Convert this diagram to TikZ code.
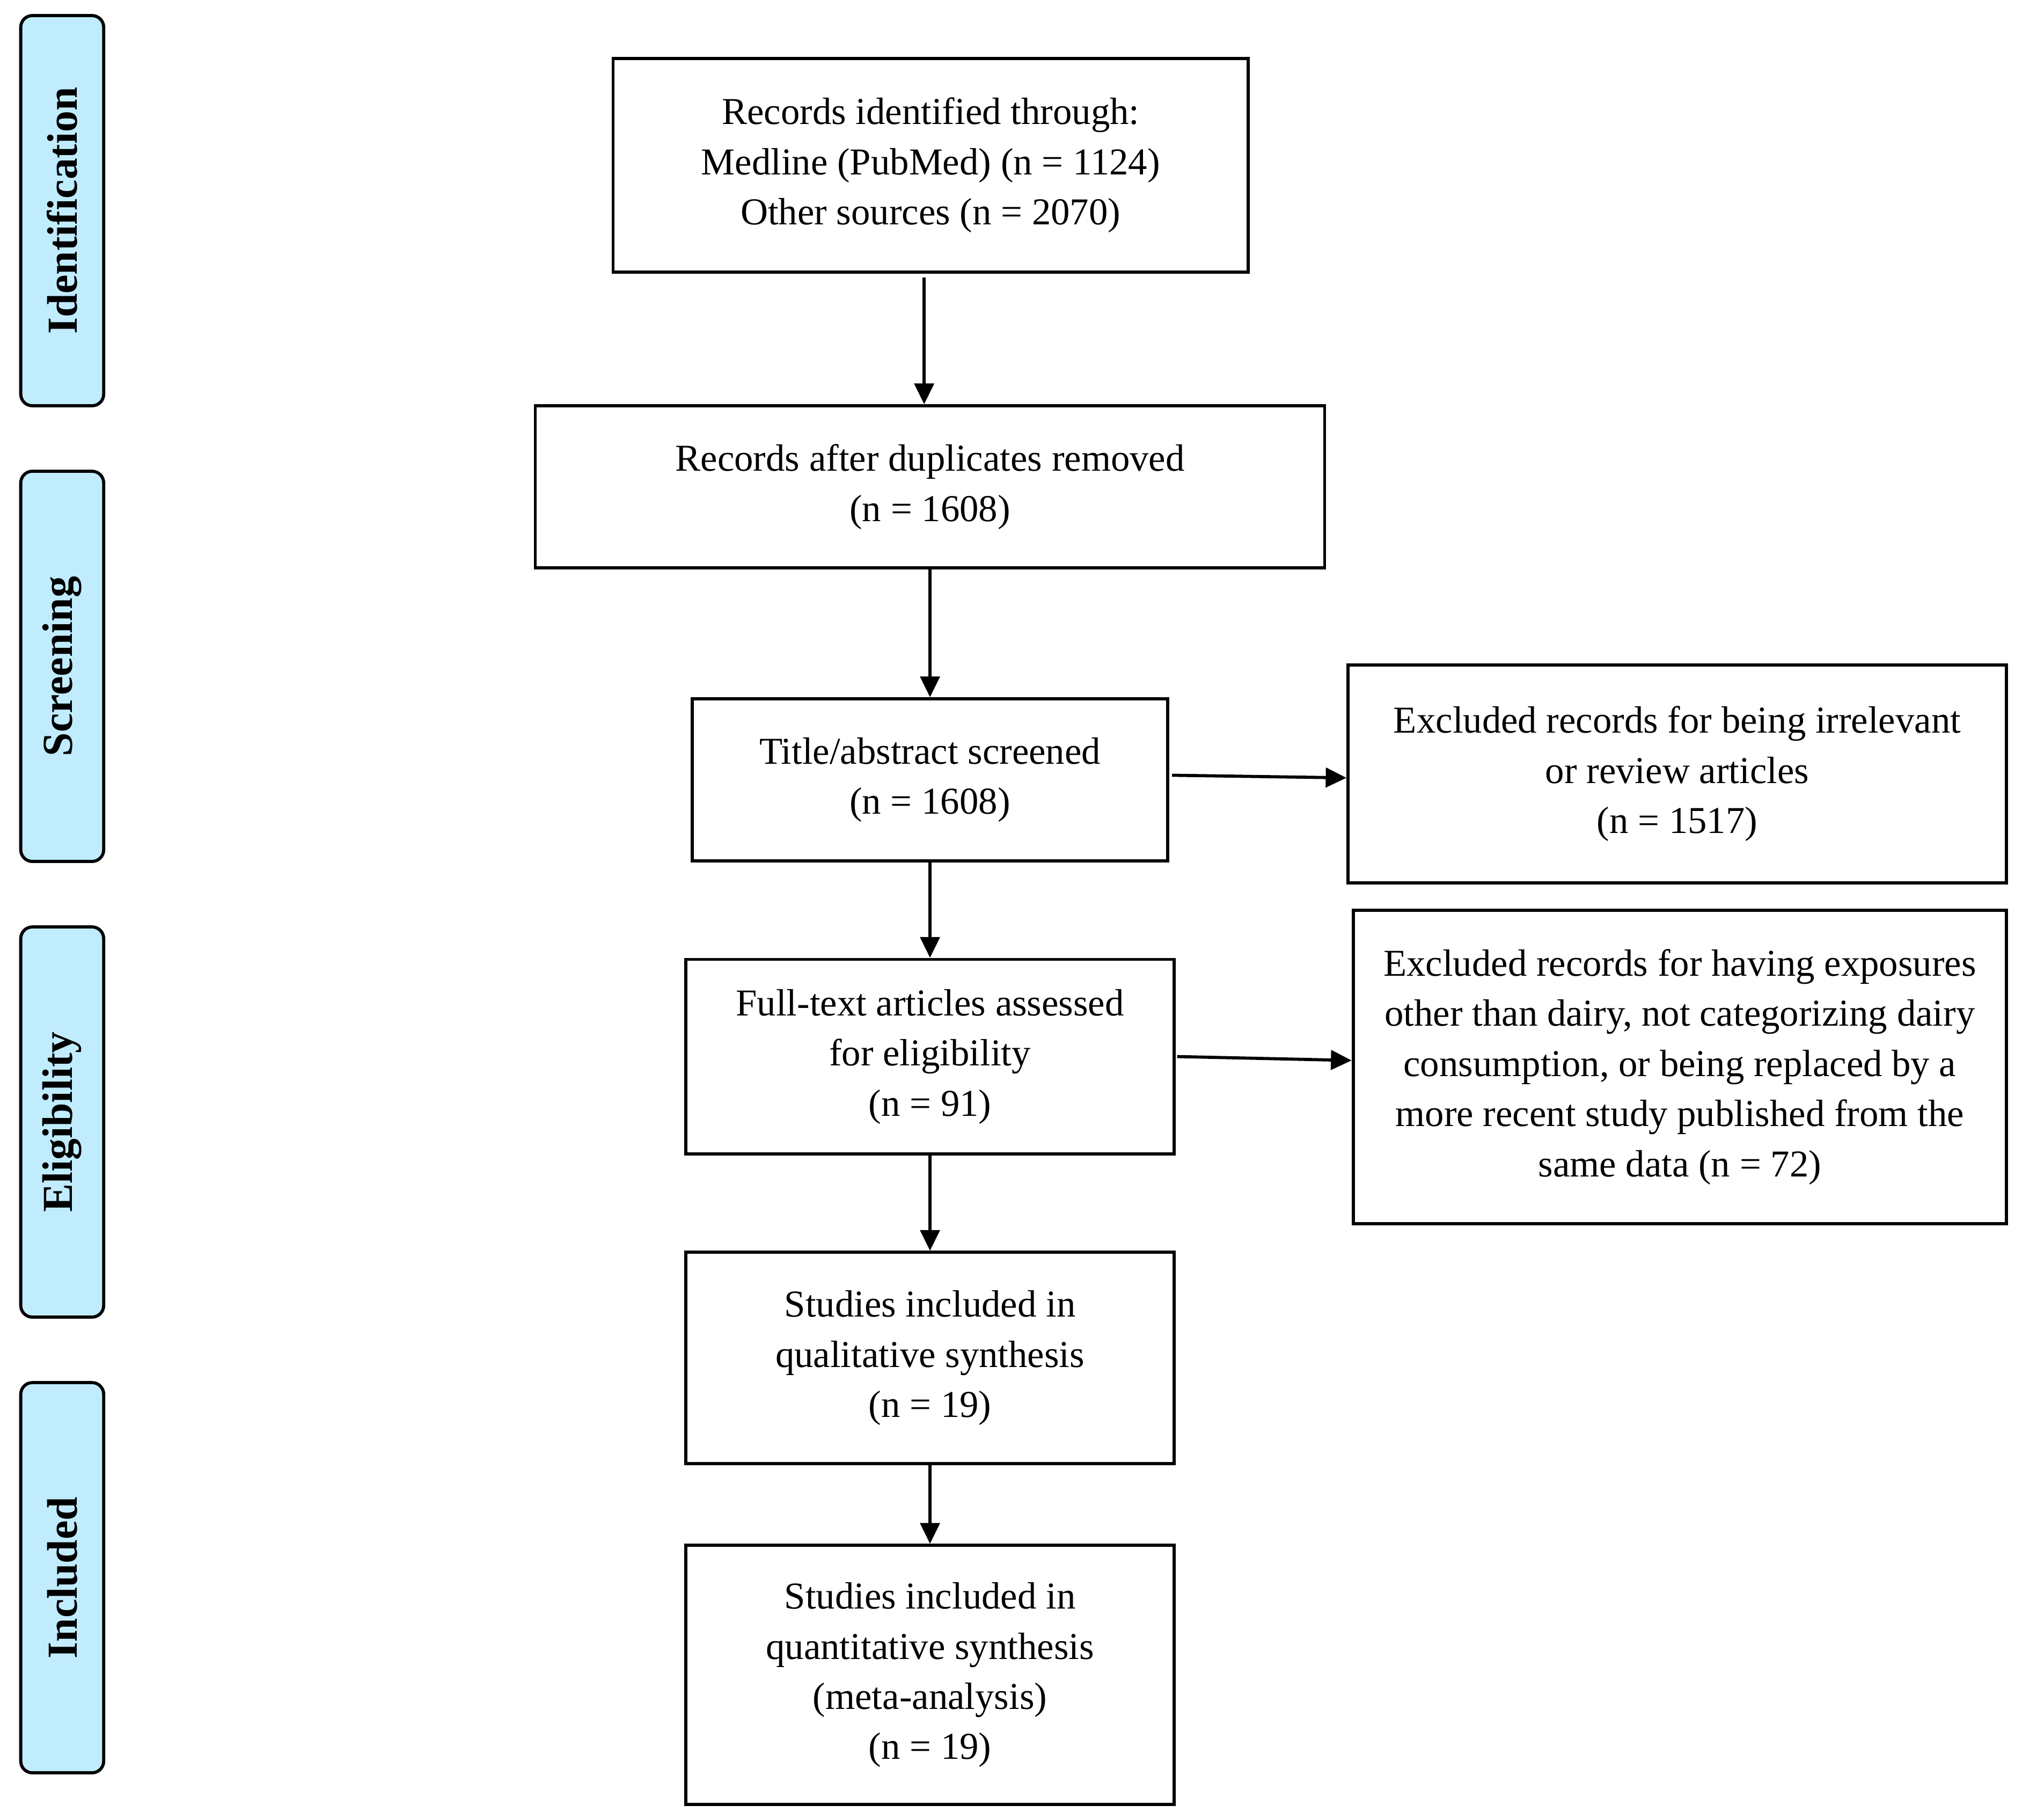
\documentclass[tikz,border=0pt]{standalone}
\usepackage{fontspec}
\setmainfont{Liberation Serif}
\usetikzlibrary{arrows.meta}
\definecolor{phasefill}{RGB}{192,236,253}
\begin{document}
\begin{tikzpicture}[x=1pt,y=-1pt,
  box/.style={draw, line width=2.4pt, inner sep=0pt, align=center,
    font=\fontsize{29.3}{38.7}\selectfont},
  phase/.style={draw, line width=2.4pt, rounded corners=9pt, fill=phasefill,
    rotate=90, minimum width=301pt, minimum height=64pt, inner sep=0pt,
    font=\bfseries\fontsize{33}{40}\selectfont},
  arr/.style={line width=2.4pt, -{Triangle[length=16pt,width=15pt]}}]
\useasboundingbox (0,0) rectangle (1560,1403.5);

% phase labels
\node[phase] (pid) at (48,162.5) {Identification};
\node[phase] (psc) at (48,514) {Screening};
\node[phase] (pel) at (48,865.5) {Eligibility};
\node[phase] (pin) at (48,1217) {Included};

% flow boxes
\node[box, minimum width=490pt, minimum height=165pt] (top) at (718,127.5)
  {Records identified through:\\Medline (PubMed) (n = 1124)\\Other sources (n = 2070)};
\node[box, minimum width=609pt, minimum height=125pt] (dup) at (717.5,375.5)
  {Records after duplicates removed\\(n = 1608)};
\node[box, minimum width=367pt, minimum height=125pt] (title) at (717.5,601.5)
  {Title/abstract screened\\(n = 1608)};
\node[box, minimum width=508pt, minimum height=168pt] (ex1) at (1294,597)
  {Excluded records for being irrelevant\\or review articles\\(n = 1517)};
\node[box, minimum width=377pt, minimum height=150pt] (full) at (717.5,815)
  {Full-text articles assessed\\for eligibility\\(n = 91)};
\node[box, minimum width=504pt, minimum height=242pt] (ex2) at (1296,823)
  {Excluded records for having exposures\\other than dairy, not categorizing dairy\\consumption, or being replaced by a\\more recent study published from the\\same data (n = 72)};
\node[box, minimum width=377pt, minimum height=163pt] (qual) at (717.5,1047.5)
  {Studies included in\\qualitative synthesis\\(n = 19)};
\node[box, minimum width=377pt, minimum height=200pt] (quant) at (717.5,1292)
  {Studies included in\\quantitative synthesis\\(meta-analysis)\\(n = 19)};

% connectors
\draw[arr] ([xshift=-5pt,yshift=-3pt]top.south) -- ([xshift=-4.5pt]dup.north);
\draw[arr] (dup.south) -- (title.north);
\draw[arr] ([xshift=2pt,yshift=3.5pt]title.east) -- ([yshift=-3pt]ex1.west);
\draw[arr] (title.south) -- (full.north);
\draw[arr] ([xshift=1pt]full.east) -- ([yshift=5pt]ex2.west);
\draw[arr] (full.south) -- (qual.north);
\draw[arr] (qual.south) -- (quant.north);
\end{tikzpicture}
\end{document}
